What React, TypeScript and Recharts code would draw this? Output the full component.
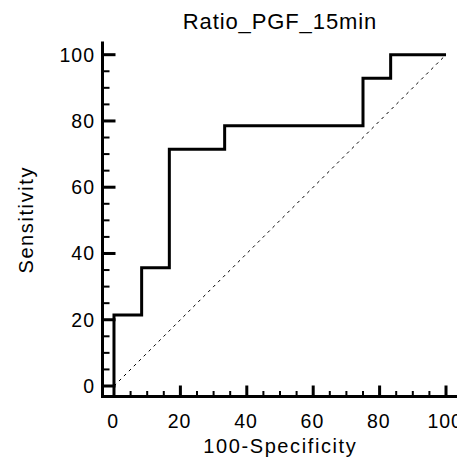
import React from 'react';
import { LineChart, Line, XAxis, YAxis } from 'recharts';

// ROC curve vertices (100-Specificity, Sensitivity)
const fpr = [0, 0, 8.33, 16.67, 33.33, 75, 83.33, 100];
const tpr = [0, 21.43, 35.71, 71.43, 78.57, 92.86, 100, 100];
// Reference diagonal
const diagX = [0, 100];
const diagY = [0, 100];
// Tick positions (minor every 5, labelled every 20)
const tickValues = [0, 5, 10, 15, 20, 25, 30, 35, 40, 45, 50, 55, 60, 65, 70, 75, 80, 85, 90, 95, 100];
const majorTicks = [0, 20, 40, 60, 80, 100];

const X_DOMAIN: [number, number] = [-3.46, 103.16];
const Y_DOMAIN: [number, number] = [-3.17, 103.53];

const rocData = fpr.map((x, i) => ({ x, y: tpr[i] }));
const diagData = diagX.map((x, i) => ({ x, y: diagY[i] }));

const FONT = '"Liberation Sans", Arial, sans-serif';
const LS = 1.6;
const TLS = 1.0;

const frameLine = { stroke: '#000', strokeWidth: 3, strokeLinecap: 'square' as const };

const XTick = (props: any) => {
  const x = Number(props.x);
  const y = Number(props.y);
  const v = props.payload.value;
  const major = majorTicks.includes(v);
  const len = major ? 11 : 5.5;
  const w = major ? 3 : 2;
  return (
    <g>
      <rect x={x - w / 2} y={y - len} width={w} height={len} fill="#000" stroke="none" />
      {major && (
        <text x={x - 0.8} y={y + 31} textAnchor="middle" fontFamily={FONT} fontSize={19.5} letterSpacing={TLS} fill="#000">
          {v}
        </text>
      )}
    </g>
  );
};

const YTick = (props: any) => {
  const x = Number(props.x);
  const y = Number(props.y);
  const v = props.payload.value;
  const major = majorTicks.includes(v);
  const len = major ? 13 : 7;
  const w = major ? 3 : 2;
  return (
    <g>
      <rect x={x} y={y - w / 2} width={len} height={w} fill="#000" stroke="none" />
      {major && (
        <text x={x - 8.5 + TLS} y={y + 7} textAnchor="end" fontFamily={FONT} fontSize={19.5} letterSpacing={TLS} fill="#000">
          {v}
        </text>
      )}
    </g>
  );
};

const XLabel = (props: any) => {
  const vb = props.viewBox || {};
  return (
    <text x={vb.x + vb.width / 2 + LS / 2} y={vb.y + 56} textAnchor="middle" fontFamily={FONT} fontSize={20} letterSpacing={LS} fill="#000">
      100-Specificity
    </text>
  );
};

const YLabel = (props: any) => {
  const vb = props.viewBox || {};
  const cx = vb.x + vb.width - 69.5;
  const cy = vb.y + vb.height / 2;
  return (
    <text x={cx} y={cy} transform={`rotate(-90, ${cx}, ${cy})`} textAnchor="middle" fontFamily={FONT} fontSize={20} letterSpacing={LS} fill="#000">
      Sensitivity
    </text>
  );
};

export default function App() {
  return (
    <div style={{ position: 'relative', width: 457, height: 453 }}>
      <LineChart width={457} height={453} margin={{ top: 35, right: 8.5, left: 0, bottom: 0 }}>
        <XAxis
          dataKey="x"
          type="number"
          domain={X_DOMAIN}
          ticks={tickValues}
          interval={0}
          axisLine={frameLine}
          tickLine={false}
          tickSize={0}
          tickMargin={0}
          height={64.5}
          tick={<XTick />}
          label={{ content: <XLabel /> }}
        />
        <XAxis
          xAxisId="top"
          orientation="top"
          dataKey="x"
          type="number"
          domain={X_DOMAIN}
          axisLine={frameLine}
          tick={false}
          tickLine={false}
          height={0}
        />
        <YAxis
          dataKey="y"
          type="number"
          domain={Y_DOMAIN}
          ticks={tickValues}
          interval={0}
          axisLine={frameLine}
          tickLine={false}
          tickSize={0}
          tickMargin={0}
          width={94.5}
          tick={<YTick />}
          label={{ content: <YLabel /> }}
        />
        <YAxis
          yAxisId="right"
          orientation="right"
          dataKey="y"
          type="number"
          domain={Y_DOMAIN}
          axisLine={frameLine}
          tick={false}
          tickLine={false}
          width={0}
        />
        <Line data={diagData} dataKey="y" type="linear" stroke="#000" strokeWidth={1} strokeDasharray="3 4" dot={false} activeDot={false} isAnimationActive={false} />
        <Line data={rocData} dataKey="y" type="stepAfter" stroke="#000" strokeWidth={3} dot={false} activeDot={false} isAnimationActive={false} />
      </LineChart>
      <svg width={457} height={40} style={{ position: 'absolute', left: 0, top: 0, pointerEvents: 'none' }}>
        <text x={271.5 + 0.45} y={21} textAnchor="middle" fontFamily={FONT} fontSize={22} letterSpacing={0.9} fill="#000">
          Ratio_PGF_15min
        </text>
      </svg>
    </div>
  );
}
